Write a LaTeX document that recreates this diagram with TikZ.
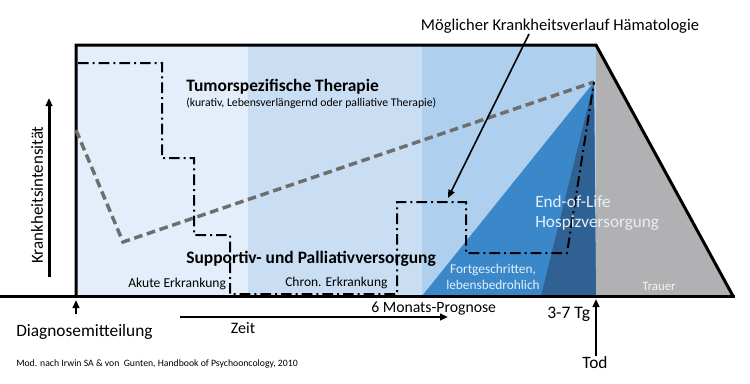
\documentclass[tikz,border=0pt]{standalone}
\usepackage{fontspec}
\setmainfont{Carlito}
\usepackage{xcolor}
\usepackage{tikz}
\usetikzlibrary{arrows.meta}

\definecolor{bandA}{HTML}{E3EEFA}
\definecolor{bandB}{HTML}{C9DEF3}
\definecolor{bandC}{HTML}{AFCFEE}
\definecolor{midblue}{HTML}{3A88C9}
\definecolor{darkblue}{HTML}{2F6193}
\definecolor{trauergrey}{HTML}{B1B1B3}
\definecolor{curvegrey}{HTML}{6E6E6E}
\definecolor{palelabel}{HTML}{E4EFFA}

\tikzset{
  outline/.style={line width=2.25pt, line join=miter},
  haemline/.style={line width=2.6pt, color=curvegrey, dash pattern=on 6.5pt off 3.5pt},
  tumorline/.style={line width=1.5pt, dash pattern=on 8pt off 3pt on 1.5pt off 3pt},
  pointer/.style={line width=1.5pt, -{Triangle[length=6pt,width=5pt]}},
  label/.style={inner sep=0.75pt}
}

\begin{document}
\begin{tikzpicture}[x=0.75pt,y=0.75pt,yscale=-1,xscale=1]
\useasboundingbox (0,0) rectangle (750,383);

%Shape: Bands
\fill[bandA] (76,45) rectangle (248,296);
\fill[bandB] (248,45) rectangle (422,296);
\fill[bandC] (422,45) rectangle (596,296);
%Shape: Trauer
\fill[trauergrey] (596,45) -- (733,296) -- (596,296) -- cycle;
%Shape: Triangles
\coordinate (apex) at (594,82);
\fill[midblue] (422,296) -- (apex) -- (596,296) -- cycle;
\fill[darkblue] (541,296) -- (apex) -- (596,296) -- cycle;

%Outline and time axis
\draw[outline] (76,296) -- (76,45) -- (596,45) -- (733,296);
\draw[outline] (0,296) -- (735,296);

%Curve: Haematologie
\draw[haemline] (76,130) -- (123,242) -- (apex);
%Curve: Tumor
\draw[tumorline] (78,63) -- (162,63) -- (162,158) -- (194,158) -- (194,235) -- (230,235)
  -- (230,294) -- (397,294) -- (397,202) -- (466,202) -- (466,253) -- (567,253) -- (apex);

% Text Node
\node[label, anchor=west, font=\fontsize{13.1}{15}\selectfont\bfseries] (tumor) at (185,87) {Tumorspezifische Therapie};
\node[label, anchor=west, font=\fontsize{8.8}{10}\selectfont] (tumorsub) at (185,103) {(kurativ, Lebensverlängernd oder palliative Therapie)};
\node[label, anchor=west, font=\fontsize{13.1}{15}\selectfont\bfseries] (support) at (185,259) {Supportiv- und Palliativversorgung};
\node[label, anchor=west, font=\fontsize{10.2}{12}\selectfont] (akut) at (127,284) {Akute Erkrankung};
\node[label, anchor=west, font=\fontsize{10.1}{12}\selectfont] (chron) at (284,283) {Chron. Erkrankung};
\node[label, align=center, text=palelabel, font=\fontsize{10}{12}\selectfont] (fort) at (493,277) {Fortgeschritten,\\lebensbedrohlich};
\node[label, align=left, anchor=west, text=palelabel, font=\fontsize{12.9}{15}\selectfont] (eol) at (534,213) {End-of-Life\\Hospizversorgung};
\node[label, text=white!92!gray, font=\fontsize{9.6}{11}\selectfont] (trauer) at (659,286) {Trauer};
\node[label, anchor=west, font=\fontsize{11.8}{13}\selectfont] (prognose) at (370,309) {6 Monats-Prognose};
\node[label, anchor=west, font=\fontsize{13.2}{15}\selectfont] (tage) at (546,314) {3-7 Tg};
\node[label, font=\fontsize{13}{15}\selectfont] (tod) at (595,363) {Tod};
\node[label, anchor=west, font=\fontsize{13}{15}\selectfont] (diagnose) at (15,332) {Diagnosemitteilung};
\node[label, font=\fontsize{12}{14}\selectfont] (zeit) at (243,328) {Zeit};
\node[label, anchor=west, font=\fontsize{7.3}{8}\selectfont] (quelle) at (15,364) {Mod. nach Irwin SA \& von\ \ Gunten, Handbook of Psychooncology, 2010};
\node[label, font=\fontsize{12.4}{14}\selectfont] (haem) at (560,26) {Möglicher Krankheitsverlauf Hämatologie};
\node[label, rotate=90, font=\fontsize{12.7}{14}\selectfont] (intens) at (37,195) {Krankheitsintensität};

%Arrows
\coordinate (ytop) at (49,98);
\coordinate (ybot) at (49,277);
\draw[pointer, line width=2.25pt] (ybot) -- (ytop);
\coordinate (zeitstart) at (180,317);
\coordinate (zeitend) at (448,317);
\draw[pointer] (zeitstart) -- (zeitend);
\coordinate (diagtip) at (76,300);
\draw[pointer] (76,314) -- (diagtip);
\coordinate (todtip) at (596,299);
\draw[pointer] (tod.north -| todtip) -- (todtip);
\coordinate (haemtip) at (448,198);
\draw[pointer, line width=1.2pt] (529,34) -- (haemtip);

\end{tikzpicture}
\end{document}
